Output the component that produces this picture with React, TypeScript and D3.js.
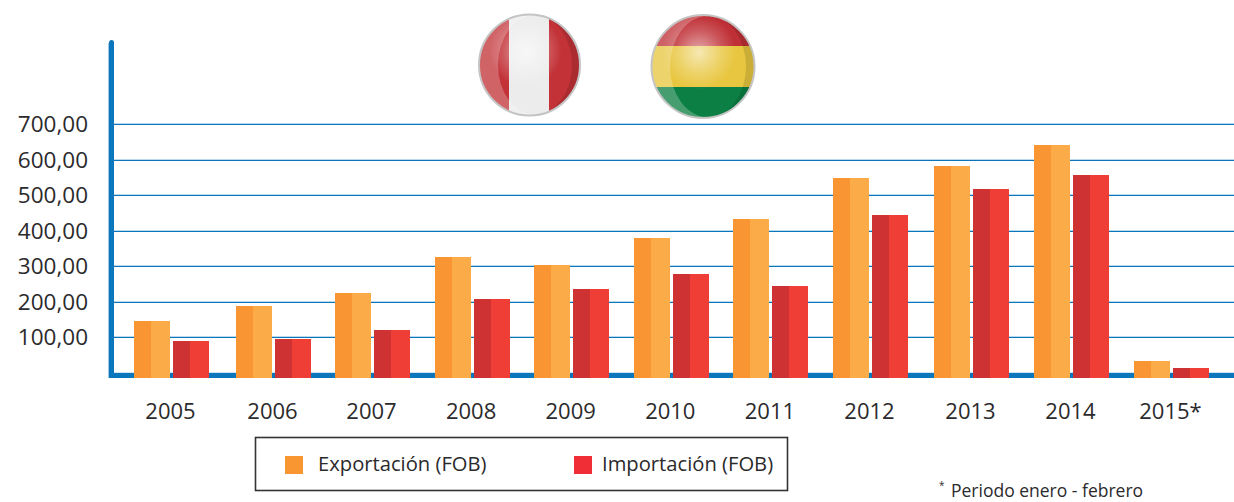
import React from "react";
import * as d3 from "d3";

const years = ["2005","2006","2007","2008","2009","2010","2011","2012","2013","2014","2015*"];
const exportacion = [146,189,225,327,304,380,434,549,583,642,34];
const importacion = [90,96,121,208,237,279,245,445,518,558,14];
const yTicks = [100,200,300,400,500,600,700];
const seriesNames = ["Exportación (FOB)","Importación (FOB)"];
const footnote = "Periodo enero - febrero";

const W = 1234, H = 502;
const FONT = "'Open Sans', 'Noto Sans', sans-serif";
const TEXT = "#2b2a2c";
const BLUE = "#0b76bc";
const y = d3.scaleLinear().domain([0,700]).range([373,124.5]);
const x = d3.scaleLinear().domain([0,1,2,7,8,10]).range([171.5,273.5,372.5,870.5,971.5,1171.5]);
const BASE = 378, BW = 36, GAP = 3, SPLIT = 17;
const fmt = (v:number)=>d3.format(".2f")(v).replace(".",",");
const snap = (v:number)=>Math.floor(v)+0.5;

function Bar({x0,top,c1,c2}:{x0:number;top:number;c1:string;c2:string}){
  const l = Math.round(x0);
  return <g shapeRendering="crispEdges">
    <rect x={l} y={top} width={SPLIT} height={BASE-top} fill={c1}/>
    <rect x={l+SPLIT} y={top} width={BW-SPLIT} height={BASE-top} fill={c2}/>
  </g>;
}

function Flag({id,cx,cy,r,ex,erx,children}:{id:string;cx:number;cy:number;r:number;ex:number;erx:number;children:React.ReactNode}){
  const ery = r-1;
  const ell = `M${ex-erx},${cy}a${erx},${ery} 0 1,0 ${2*erx},0a${erx},${ery} 0 1,0 ${-2*erx},0Z`;
  const circ = `M${cx-r},${cy}a${r},${r} 0 1,0 ${2*r},0a${r},${r} 0 1,0 ${-2*r},0Z`;
  const leftHalf = `M${cx-r-2},${cy-r-2}H${ex}V${cy+r+2}H${cx-r-2}Z`;
  const rightHalf = `M${ex},${cy-r-2}H${cx+r+2}V${cy+r+2}H${ex}Z`;
  return <g>
    <defs>
      <clipPath id={`${id}-c`}><circle cx={cx} cy={cy} r={r}/></clipPath>
      <clipPath id={`${id}-l`}><path d={leftHalf}/></clipPath>
      <clipPath id={`${id}-r`}><path d={rightHalf}/></clipPath>
      <radialGradient id={`${id}-g`} gradientUnits="userSpaceOnUse" cx={cx-4} cy={cy-14} r={r*0.72}>
        <stop offset="0" stopColor="#fff" stopOpacity={0.6}/>
        <stop offset="0.6" stopColor="#fff" stopOpacity={0.2}/>
        <stop offset="1" stopColor="#fff" stopOpacity={0}/>
      </radialGradient>
    </defs>
    <g clipPath={`url(#${id}-c)`}>
      {children}
      <circle cx={cx} cy={cy} r={r} fill={`url(#${id}-g)`}/>
      <g clipPath={`url(#${id}-l)`}><path d={circ+ell} fillRule="evenodd" fill="#fff" opacity={0.24}/></g>
      <g clipPath={`url(#${id}-r)`}><path d={circ+ell} fillRule="evenodd" fill="#000" opacity={0.12}/></g>
    </g>
    <circle cx={cx} cy={cy} r={r} fill="none" stroke="#c4c4c4" strokeWidth={2}/>
  </g>;
}

export default function App(){
  return <svg width={W} height={H} viewBox={`0 0 ${W} ${H}`} style={{position:"absolute",left:0,top:0,background:"#fff"}} fontFamily={FONT}>
    {yTicks.map(t=><g key={t}>
      <line x1={114} x2={W} y1={snap(y(t))-1} y2={snap(y(t))-1} stroke="#bcdaee" strokeWidth={1}/>
      <line x1={114} x2={W} y1={snap(y(t))} y2={snap(y(t))} stroke={BLUE} strokeWidth={1}/>
      <text x={88} y={y(t)+7.5} textAnchor="end" fontSize={22.5} fill={TEXT}>{fmt(t)}</text>
    </g>)}
    <line x1={108.5} x2={108.5} y1={43} y2={378} stroke="#9cc8e6" strokeWidth={1}/>
    <rect x={109} y={40} width={5} height={338} rx={2.5} fill={BLUE}/>
    <rect x={109} y={373} width={1125} height={5} fill={BLUE}/>
    <rect x={114} y={372} width={1120} height={1} fill="#cfe4f3"/>

    {years.map((yr,i)=><g key={yr}>
      <Bar x0={x(i)-BW-GAP/2} top={y(exportacion[i])} c1="#f99533" c2="#fbab47"/>
      <Bar x0={x(i)+GAP/2} top={y(importacion[i])} c1="#ce3233" c2="#ef3e36"/>
      <text x={x(i)-1} y={419} textAnchor="middle" fontSize={22} fill={TEXT}>{yr}</text>
    </g>)}

    <Flag id="pe" cx={529.5} cy={65} r={50.5} ex={535} erx={37}>
      <rect x={470} y={10} width={120} height={110} fill="#c23237"/>
      <rect x={509} y={10} width={40} height={110} fill="#ececec"/>
    </Flag>
    <Flag id="bo" cx={703} cy={66.5} r={51.5} ex={708} erx={38}>
      <rect x={645} y={10} width={120} height={36} fill="#bf3036"/>
      <rect x={645} y={46} width={120} height={41} fill="#e8c63f"/>
      <rect x={645} y={87} width={120} height={36} fill="#0c8044"/>
    </Flag>

    <rect x={255.5} y={437.5} width={532} height={53} fill="#fff" stroke="#333" strokeWidth={1.6}/>
    <rect x={285} y={456} width={18} height={18} fill="#fa9632"/>
    <text x={318} y={471} fontSize={20.2} fill={TEXT}>{seriesNames[0]}</text>
    <rect x={574} y={456} width={18} height={18} fill="#ef2e36"/>
    <text x={602} y={471} fontSize={20.2} fill={TEXT}>{seriesNames[1]}</text>

    <text x={939} y={489} fontSize={10} fill={TEXT}>*</text>
    <text x={951} y={497} fontSize={17.5} fill={TEXT}>{footnote}</text>
  </svg>;
}
